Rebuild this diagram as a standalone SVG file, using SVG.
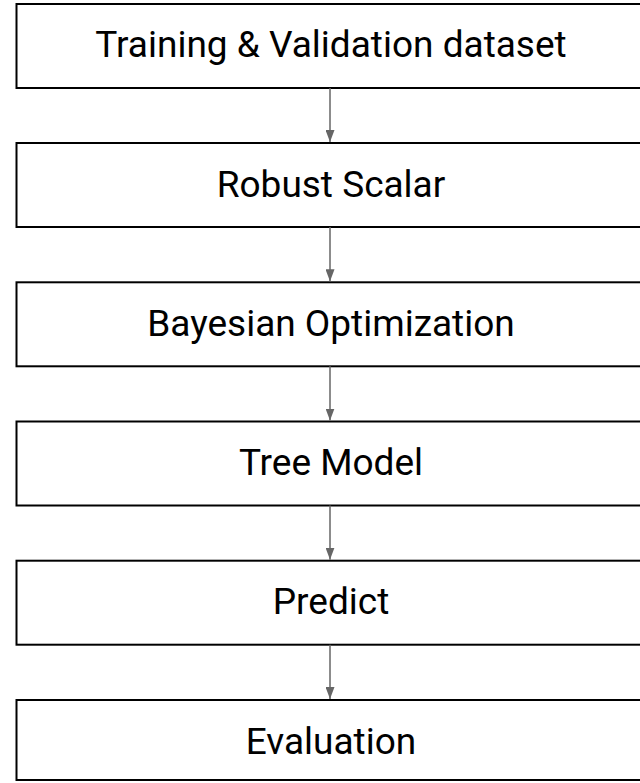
<svg xmlns="http://www.w3.org/2000/svg" width="640" height="783" viewBox="0 0 640 783">
<defs>
<style>
.box{fill:#fff;stroke:#000;stroke-width:2}
.lbl{font-family:Roboto,"Liberation Sans",sans-serif;font-size:37px;fill:#000;text-anchor:middle}
.conn{stroke:#666;stroke-width:1.5;fill:none}
</style>
<marker id="ah" viewBox="0 0 12 9" refX="12" refY="4.5" markerWidth="8" markerHeight="6" orient="auto" markerUnits="strokeWidth">
<path d="M0,0 L12,4.5 L0,9 z" fill="#666"/>
</marker>
</defs>
<rect width="640" height="783" fill="#fff"/>
<g id="n1"><rect class="box" x="16.5" y="4" width="630" height="84"/><text class="lbl" x="331" y="57">Training &amp; Validation dataset</text></g>
<g id="n2"><rect class="box" x="16.5" y="143" width="630" height="84"/><text class="lbl" x="331" y="196.5">Robust Scalar</text></g>
<g id="n3"><rect class="box" x="16.5" y="282.3" width="630" height="84"/><text class="lbl" x="331" y="335.8">Bayesian Optimization</text></g>
<g id="n4"><rect class="box" x="16.5" y="421.5" width="630" height="84"/><text class="lbl" x="331" y="475">Tree Model</text></g>
<g id="n5"><rect class="box" x="16.5" y="560.7" width="630" height="84"/><text class="lbl" x="331" y="614.2">Predict</text></g>
<g id="n6"><rect class="box" x="16.5" y="700" width="630" height="80"/><text class="lbl" x="331" y="753.5">Evaluation</text></g>
<g id="connectors">
<line class="conn" x1="330" y1="88" x2="330" y2="142" marker-end="url(#ah)"/>
<line class="conn" x1="330" y1="227" x2="330" y2="281.3" marker-end="url(#ah)"/>
<line class="conn" x1="330" y1="366.3" x2="330" y2="420.5" marker-end="url(#ah)"/>
<line class="conn" x1="330" y1="505.5" x2="330" y2="559.7" marker-end="url(#ah)"/>
<line class="conn" x1="330" y1="644.7" x2="330" y2="699" marker-end="url(#ah)"/>
</g>
</svg>
